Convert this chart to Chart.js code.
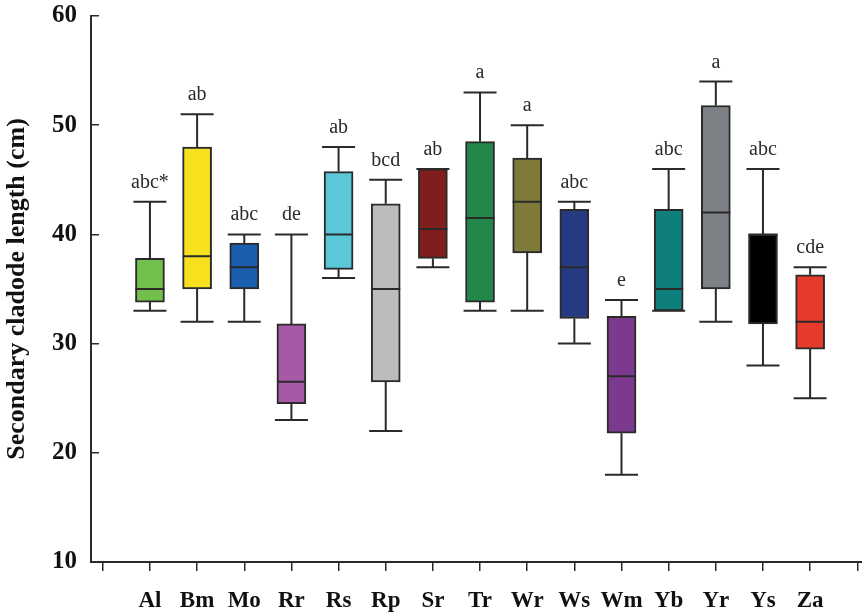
<!DOCTYPE html>
<html lang="en">
<head>
  <meta charset="UTF-8">
  <title>Secondary cladode length</title>
  <script src="https://cdn.jsdelivr.net/npm/chart.js"></script>
  <style>
    body { margin: 0; background: #fff; }
    #wrap { width: 862px; height: 615px; }
  </style>
</head>
<body>
  <div id="wrap"><canvas id="boxChart"></canvas></div>

  <script>
    // genotypes and box plot stats
    const cats    = ['Al', 'Bm', 'Mo', 'Rr', 'Rs', 'Rp', 'Sr', 'Tr', 'Wr', 'Ws', 'Wm', 'Yb', 'Yr', 'Ys', 'Za'];
    const lows    = [33, 32, 32, 23, 36, 22, 37, 33, 33, 30, 18, 33, 32, 28, 25];
    const q1s     = [33.8, 35, 35, 24.5, 36.8, 26.5, 37.8, 33.8, 38.3, 32.3, 21.8, 33, 35, 31.8, 29.5];
    const medians = [35, 38, 37, 26.5, 40, 35, 40.5, 41.5, 43, 37, 27, 35, 42, 40, 32];
    const q3s     = [37.8, 48, 39.2, 31.8, 45.75, 42.8, 46, 48.5, 47, 42.3, 32.5, 42.3, 51.8, 40, 36.3];
    const highs   = [43, 51, 40, 40, 48, 45, 46, 53, 50, 43, 34, 46, 54, 46, 37];
    const letters = ['abc*', 'ab', 'abc', 'de', 'ab', 'bcd', 'ab', 'a', 'a', 'abc', 'e', 'abc', 'a', 'abc', 'cde'];
    const colors  = ['#72bf4e', '#f7e11f', '#1a5fad', '#a65aa6', '#5bc8d8', '#bbbdbd', '#7f1e1c', '#228849',
                     '#7f7a3a', '#253a80', '#7b3a8e', '#0e7f7d', '#7d8084', '#000000', '#e83a2a'];

    const ink = '#2a2a2a';
    const serif = '"Liberation Serif", "DejaVu Serif", serif';

    // whiskers, medians and letter groups on top of the floating bars
    const whiskerPlugin = {
      id: 'whiskers',
      afterDatasetsDraw(chart) {
        const ctx = chart.ctx;
        const xs = chart.scales.x, ys = chart.scales.y;
        const half = 14.5, cap = 16.5;
        ctx.save();
        ctx.strokeStyle = ink;
        ctx.lineWidth = 2;
        cats.forEach((c, i) => {
          const x = xs.getPixelForValue(i + 1);
          const yLo = ys.getPixelForValue(lows[i]);
          const yQ1 = ys.getPixelForValue(q1s[i]);
          const yMed = ys.getPixelForValue(medians[i]);
          const yQ3 = ys.getPixelForValue(q3s[i]);
          const yHi = ys.getPixelForValue(highs[i]);
          ctx.beginPath();
          ctx.moveTo(x, yHi); ctx.lineTo(x, yQ3);
          ctx.moveTo(x, yQ1); ctx.lineTo(x, yLo);
          ctx.moveTo(x - cap, yHi); ctx.lineTo(x + cap, yHi);
          ctx.moveTo(x - cap, yLo); ctx.lineTo(x + cap, yLo);
          ctx.moveTo(x - half, yMed); ctx.lineTo(x + half, yMed);
          ctx.stroke();

          ctx.fillStyle = ink;
          ctx.font = '20px ' + serif;
          ctx.textAlign = 'center';
          ctx.textBaseline = 'alphabetic';
          ctx.fillText(letters[i], x, yHi - 14);
        });
        ctx.restore();
      }
    };

    const boxData = cats.map((c, i) => ({ x: i + 1, y: [q1s[i], q3s[i]] }));

    new Chart(document.getElementById('boxChart'), {
      type: 'bar',
      data: {
        datasets: [{
          data: boxData,
          backgroundColor: colors,
          borderColor: ink,
          borderWidth: 2,
          borderSkipped: false,
          barThickness: 29
        }]
      },
      options: {
        responsive: true,
        maintainAspectRatio: false,
        animation: false,
        layout: { padding: { top: 16, right: 0, left: 2, bottom: 0 } },
        plugins: {
          legend: { display: false },
          tooltip: { enabled: false }
        },
        scales: {
          x: {
            type: 'linear',
            offset: false,
            min: -0.25,
            max: 16.1,
            afterFit: s => { s.height = 53; s.paddingLeft = 0; s.paddingRight = 0; },
            grid: { offset: false, drawOnChartArea: false, tickLength: 9, color: ink, lineWidth: 1.5 },
            border: { color: ink, width: 2 },
            ticks: {
              stepSize: 1,
              autoSkip: false,
              includeBounds: false,
              maxRotation: 0,
              padding: 16,
              color: '#111',
              font: { family: serif, size: 23, weight: 'bold' },
              callback: v => cats[v - 1] || ''
            }
          },
          y: {
            min: 10,
            max: 60,
            afterFit: s => { s.width = 89; s.paddingTop = 0; s.paddingBottom = 0; },
            grid: { drawOnChartArea: false, tickLength: -8, color: ink, lineWidth: 1.5 },
            border: { color: ink, width: 2 },
            ticks: {
              stepSize: 10,
              padding: 22,
              color: '#111',
              font: { family: serif, size: 25, weight: 'bold' }
            },
            title: {
              display: true,
              text: 'Secondary cladode length (cm)',
              color: '#111',
              padding: 0,
              font: { family: serif, size: 26, weight: 'bold' }
            }
          }
        }
      },
      plugins: [whiskerPlugin]
    });
  </script>
</body>
</html>
